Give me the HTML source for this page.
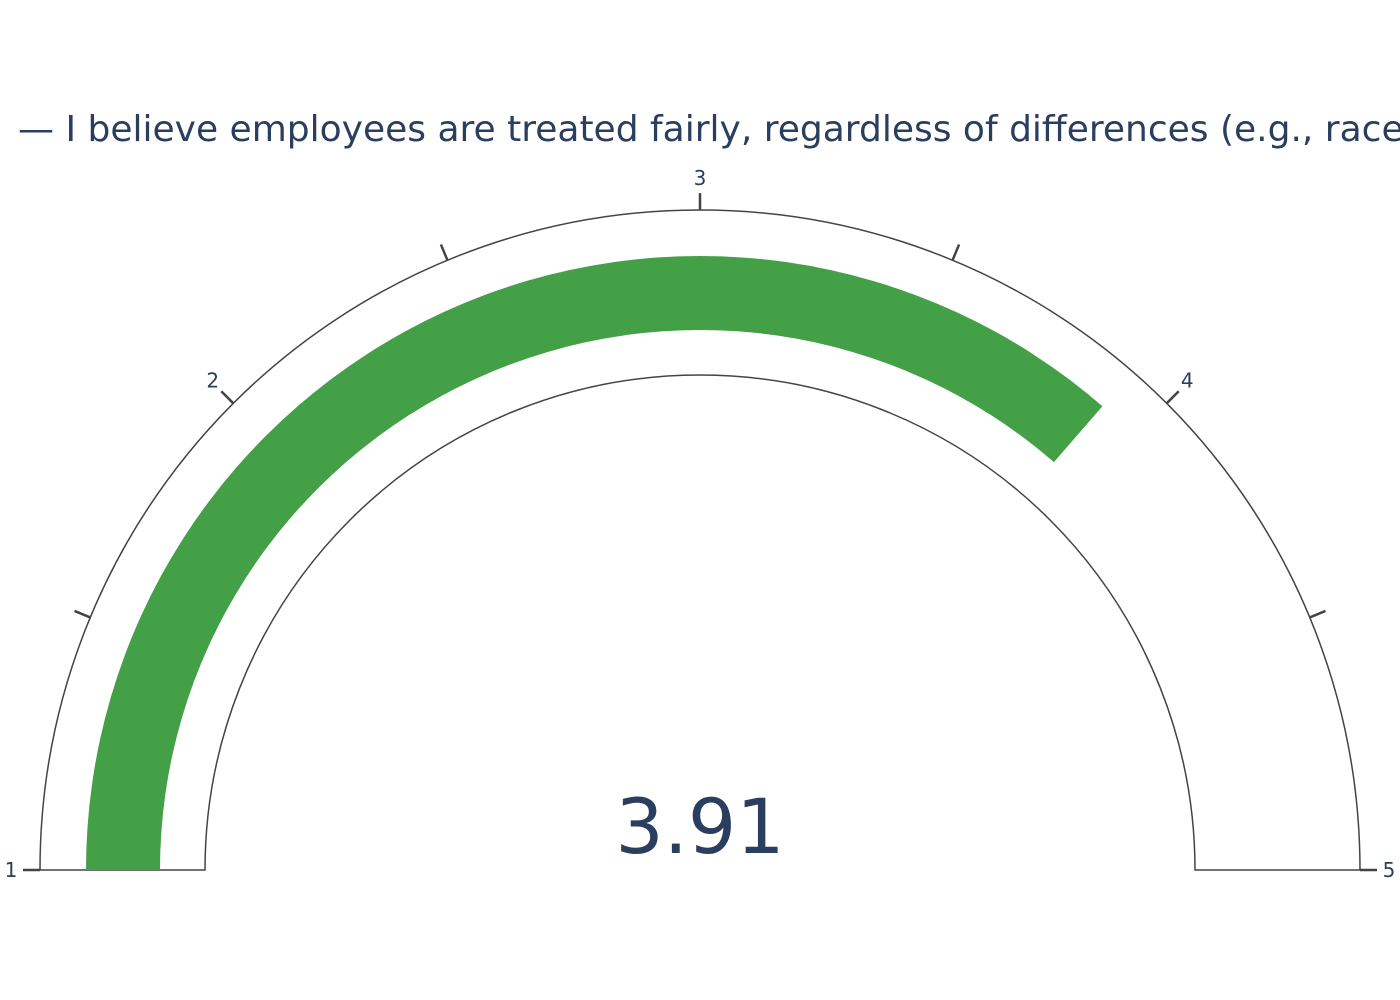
<!DOCTYPE html>
<html><head><meta charset="utf-8"><style>
html,body{margin:0;padding:0;background:#fff;}
svg{display:block;font-family:"DejaVu Sans","Liberation Sans",sans-serif;}
</style></head><body>
<svg id="chart" width="1400" height="1000" viewBox="0 0 1400 1000">
<text x="18" y="141" font-size="36" fill="#2a3f5f">— I believe employees are treated fairly, regardless of differences (e.g., race, gender, age)</text>
<g id="g"></g>
<text x="700" y="853" font-size="76" text-anchor="middle" fill="#2a3f5f">3.91</text>
</svg>
<script>
const rangeMin = 1, rangeMax = 5;
const value = [3.91];
const majorTicks = [1,2,3,4,5];
const minorTicks = [1.5,2.5,3.5,4.5];
const tickLabels = ["1","2","3","4","5"];
const cx=700, cy=870, R=660, Ri=495, Bo=614, Bi=540;
const g=document.getElementById('g');
const NS='http://www.w3.org/2000/svg';
function ang(v){return Math.PI-(v-rangeMin)/(rangeMax-rangeMin)*Math.PI;}
function pt(v,r){const a=ang(v);return [cx+r*Math.cos(a),cy-r*Math.sin(a)];}
function mk(tag,attrs,name){const e=document.createElementNS(NS,tag);for(const k in attrs)e.setAttribute(k,attrs[k]);


g.appendChild(e);return e;}
function band(v0,v1,ro,ri){const a=pt(v0,ro),b=pt(v1,ro),c=pt(v1,ri),d=pt(v0,ri);
return `M${a[0]},${a[1]} A${ro},${ro} 0 0 1 ${b[0]},${b[1]} L${c[0]},${c[1]} A${ri},${ri} 0 0 0 ${d[0]},${d[1]} Z`;}
mk('path',{d:band(rangeMin,rangeMax,R,Ri),fill:'#fff',stroke:'#444','stroke-width':1.5},'gauge-background');
mk('path',{d:band(rangeMin,value[0],Bo,Bi),fill:'#43a047'},'gauge-bar');
[...majorTicks,...minorTicks].forEach(t=>{const a=pt(t,R),b=pt(t,R+17);
mk('line',{x1:a[0],y1:a[1],x2:b[0],y2:b[1],stroke:'#444','stroke-width':2.5},'tick-'+t);});
majorTicks.forEach((t,i)=>{const a=ang(t);const p=pt(t,R+32);
const tx=mk('text',{x:p[0]-Math.cos(a)*3,y:p[1]+7,'font-size':20,fill:'#2a3f5f','text-anchor':'middle'},'tick-label-'+t);
tx.textContent=tickLabels[i];});
</script>
</body></html>
